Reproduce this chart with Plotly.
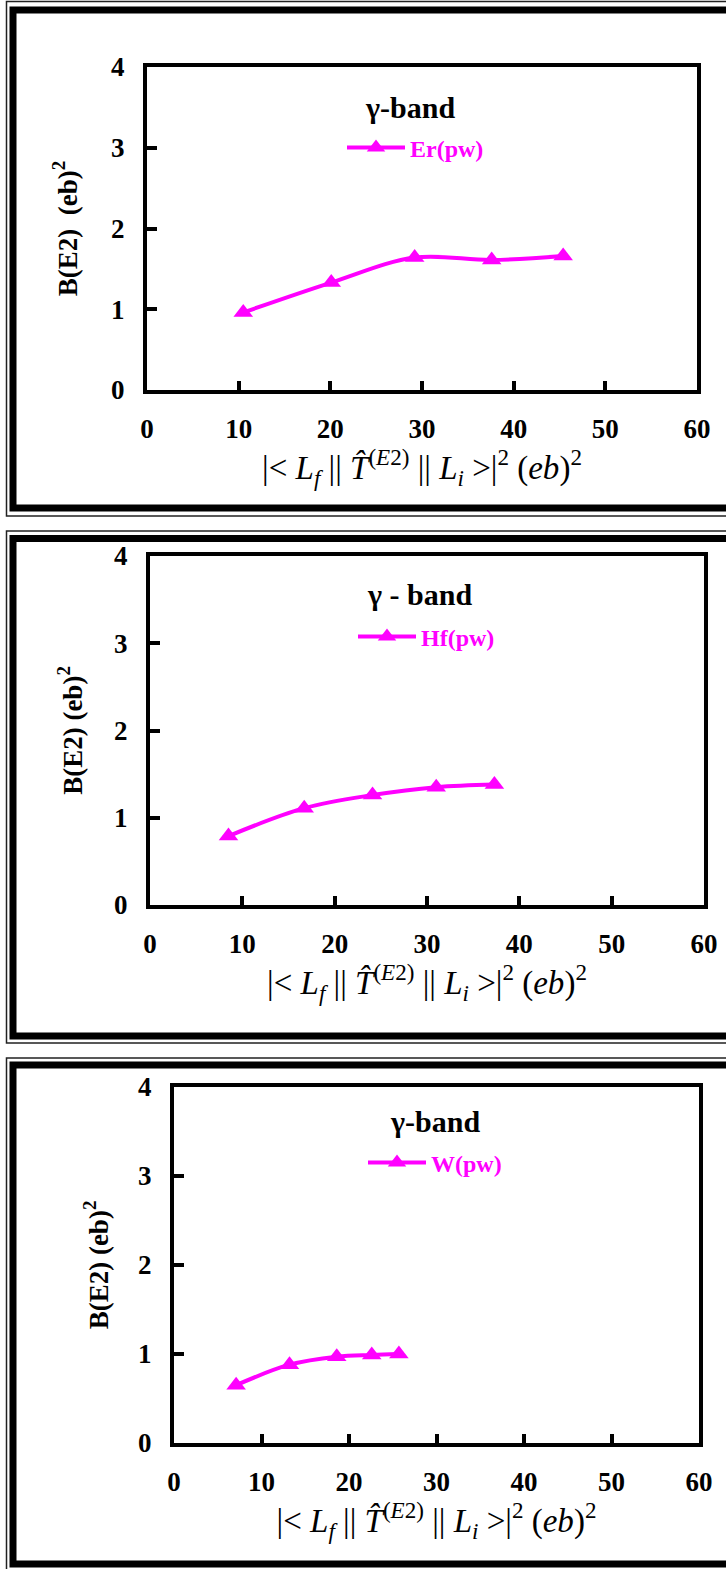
import plotly.graph_objects as go

W, H = 726, 1569

# ---- data ----
er_x = [10.5, 20.1, 29.2, 37.6, 45.4]
er_y = [0.96, 1.33, 1.64, 1.61, 1.66]
hf_x = [8.5, 16.7, 24.1, 31.0, 37.3]
hf_y = [0.79, 1.11, 1.26, 1.35, 1.38]
w_x = [7.1, 13.2, 18.6, 22.6, 25.7]
w_y = [0.65, 0.88, 0.97, 0.99, 1.00]

series_names = ["Er(pw)", "Hf(pw)", "W(pw)"]
band_titles = ["γ-band", "γ - band", "γ-band"]
y_titles = ["B(E2)  (eb)<sup>2</sup>", "B(E2) (eb)<sup>2</sup>", "B(E2) (eb)<sup>2</sup>"]
x_title = ("|< <i>L<sub>f</sub></i> || <i>T̂</i><sup>(<i>E</i>2)</sup> || "
           "<i>L<sub>i</sub></i> >|<sup>2</sup> (<i>eb</i>)<sup>2</sup>")
x_ticks = [0, 10, 20, 30, 40, 50, 60]
y_ticks = [0, 1, 2, 3, 4]

# ---- layout geometry (pixels) ----
plot_boxes = [(147, 697, 67, 390), (150, 704, 556, 905), (174, 699, 1087, 1443)]
title_pos = [(410, 107), (419, 595), (435, 1121)]
legend_pos = [(342, 148), (353, 637), (363, 1163)]
frames = [(1.5, 516, 10, 508), (531, 1043, 538.5, 1036), (1058, 1580, 1065, 1564)]
ytitle_shift = [27, 25, 23]

MAG = "#FF00FF"
FONT = "Liberation Serif"

def px(x):
    return x / W

def py(y):
    return 1 - y / H

xs = [er_x, hf_x, w_x]
ys = [er_y, hf_y, w_y]

fig = go.Figure()
shapes = []
annotations = []
for i in range(3):
    sfx = "" if i == 0 else str(i + 1)
    fig.add_trace(go.Scatter(
        x=xs[i], y=ys[i], name=series_names[i],
        mode="lines+markers",
        line=dict(color=MAG, width=4, shape="spline", smoothing=1.0),
        marker=dict(symbol="triangle-up", size=17, color=MAG),
        xaxis="x" + sfx, yaxis="y" + sfx,
        legend="legend" + sfx,
    ))
    l, r, t, b = plot_boxes[i]
    fig.update_layout(**{
        "xaxis" + sfx: dict(
            domain=[px(l), px(r)], anchor="y" + sfx, range=[0, 60],
            tickvals=x_ticks, ticks="inside", ticklen=9, tickwidth=4,
            tickcolor="black", showline=True, linewidth=4, linecolor="black",
            mirror=True, showgrid=False, zeroline=False, automargin=False,
            ticklabelstandoff=12,
            tickfont=dict(family=FONT, size=27, color="black", weight="bold"),
            title=dict(text=x_title, standoff=0,
                       font=dict(family=FONT, size=33, color="black")),
        ),
        "yaxis" + sfx: dict(
            domain=[py(b), py(t)], anchor="x" + sfx, range=[0, 4],
            tickvals=y_ticks, ticks="inside", ticklen=10, tickwidth=4,
            tickcolor="black", showline=True, linewidth=4, linecolor="black",
            mirror=True, showgrid=False, zeroline=False, automargin=False,
            ticklabelstandoff=13,
            tickfont=dict(family=FONT, size=27, color="black", weight="bold"),
            title=dict(text=y_titles[i], standoff=ytitle_shift[i],
                       font=dict(family=FONT, size=27, color="black", weight="bold")),
        ),
        "legend" + sfx: dict(
            x=px(legend_pos[i][0]), y=py(legend_pos[i][1]),
            xanchor="left", yanchor="middle", xref="paper", yref="paper",
            bgcolor="rgba(0,0,0,0)", borderwidth=0, itemwidth=58,
            font=dict(family=FONT, size=24, color=MAG, weight="bold"),
        ),
    })
    annotations.append(dict(
        text="<b>%s</b>" % band_titles[i], x=px(title_pos[i][0]), y=py(title_pos[i][1]),
        xref="paper", yref="paper", showarrow=False, xanchor="center", yanchor="middle",
        font=dict(family=FONT, size=30, color="black"),
    ))
    ot, ob, it, ib = frames[i]
    shapes.append(dict(type="rect", xref="paper", yref="paper",
                       x0=px(6.5), x1=px(760), y0=py(ob), y1=py(ot),
                       line=dict(color="#222222", width=1.5)))
    shapes.append(dict(type="rect", xref="paper", yref="paper",
                       x0=px(13), x1=px(760), y0=py(ib), y1=py(it),
                       line=dict(color="black", width=7)))

fig.update_layout(
    width=W, height=H,
    margin=dict(l=0, r=0, t=0, b=0, pad=0, autoexpand=False),
    paper_bgcolor="white", plot_bgcolor="white",
    shapes=shapes, annotations=annotations, showlegend=True,
)
fig.write_html("out.html")
